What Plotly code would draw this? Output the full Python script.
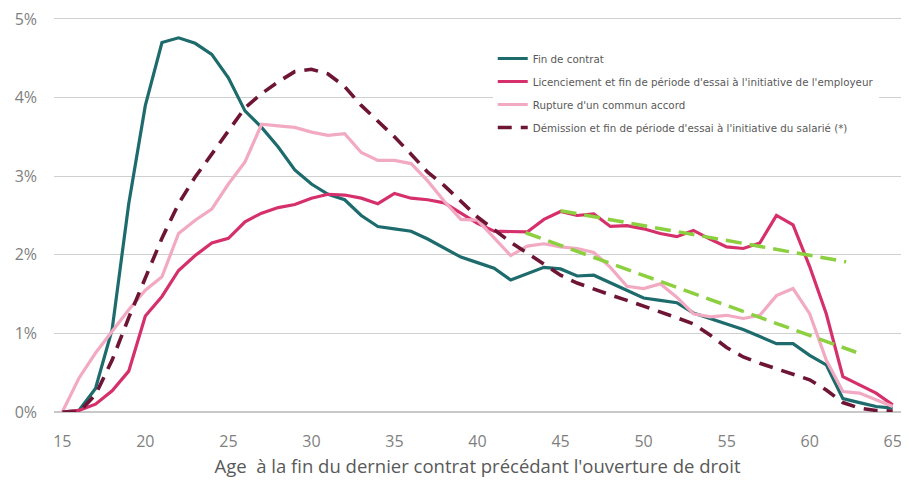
import plotly.graph_objects as go

# ages (catégories de l'axe x)
ages = list(range(15, 66))

fin_contrat = [0.00, 0.02, 0.30, 1.05, 2.65, 3.90, 4.70, 4.76, 4.69, 4.55,
               4.25, 3.83, 3.62, 3.37, 3.08, 2.90, 2.77, 2.70, 2.50, 2.36,
               2.33, 2.30, 2.20, 2.08, 1.97, 1.90, 1.83, 1.68, 1.76, 1.84,
               1.82, 1.73, 1.74, 1.64, 1.55, 1.45, 1.42, 1.39, 1.26, 1.19,
               1.12, 1.05, 0.96, 0.87, 0.87, 0.72, 0.60, 0.17, 0.12, 0.07,
               0.05]

licenciement = [0.00, 0.02, 0.10, 0.27, 0.52, 1.22, 1.47, 1.80, 1.99, 2.15,
                2.21, 2.42, 2.53, 2.60, 2.64, 2.72, 2.77, 2.76, 2.72, 2.65,
                2.78, 2.72, 2.70, 2.66, 2.53, 2.40, 2.30, 2.29, 2.29, 2.45,
                2.55, 2.50, 2.52, 2.36, 2.37, 2.33, 2.27, 2.23, 2.31, 2.20,
                2.10, 2.08, 2.15, 2.50, 2.38, 1.85, 1.25, 0.45, 0.35, 0.24,
                0.09]

rupture = [0.00, 0.43, 0.75, 1.03, 1.30, 1.55, 1.72, 2.27, 2.44, 2.58,
           2.90, 3.18, 3.66, 3.64, 3.62, 3.56, 3.52, 3.54, 3.30, 3.20,
           3.20, 3.16, 2.94, 2.68, 2.45, 2.44, 2.22, 1.99, 2.11, 2.14,
           2.10, 2.08, 2.03, 1.84, 1.60, 1.57, 1.63, 1.46, 1.25, 1.21,
           1.23, 1.19, 1.23, 1.48, 1.57, 1.25, 0.66, 0.26, 0.24, 0.15,
           0.07]

demission = [0.00, 0.00, 0.22, 0.66, 1.20, 1.72, 2.21, 2.65, 2.99, 3.28,
             3.58, 3.87, 4.05, 4.20, 4.33, 4.36, 4.30, 4.14, 3.90, 3.70,
             3.50, 3.28, 3.05, 2.88, 2.68, 2.48, 2.32, 2.16, 2.02, 1.88,
             1.74, 1.64, 1.56, 1.49, 1.42, 1.35, 1.27, 1.20, 1.12, 0.98,
             0.82, 0.70, 0.62, 0.55, 0.48, 0.41, 0.28, 0.12, 0.05, 0.02,
             0.01]

# tendances ajoutées en vert (début / fin)
tendance_haut_x = [45.0, 62.2]
tendance_haut_y = [2.56, 1.91]
tendance_bas_x = [42.9, 62.8]
tendance_bas_y = [2.28, 0.76]

y_ticks = [0, 1, 2, 3, 4, 5]
y_labels = ["0%", "1%", "2%", "3%", "4%", "5%"]
x_ticks = [15, 20, 25, 30, 35, 40, 45, 50, 55, 60, 65]

fig = go.Figure()

series = [
    ("Fin de contrat", fin_contrat, "#1d6b6c", "solid"),
    ("Licenciement et fin de période d'essai à l'initiative de l'employeur", licenciement, "#d5306b", "solid"),
    ("Rupture d'un commun accord", rupture, "#f2a9c2", "solid"),
    ("Démission et fin de période d'essai à l'initiative du salarié (*)", demission, "#6e1536", "14px,9px"),
]

for i, (nom, vals, couleur, dash) in enumerate(series):
    fig.add_trace(go.Scatter(
        x=ages, y=vals, mode="lines", name=nom,
        legendgroup=f"g{i}",
        line=dict(color=couleur, width=3.2 if dash == "solid" else 3.6, dash=dash),
    ))

for tx, ty in [(tendance_haut_x, tendance_haut_y), (tendance_bas_x, tendance_bas_y)]:
    fig.add_trace(go.Scatter(
        x=tx, y=ty, mode="lines", showlegend=False,
        line=dict(color="#8ccf3f", width=3.5, dash="16px,8px"),
    ))

# la page ajoute une marge de 8px autour du graphique
fig.update_layout(
    width=901, height=470,
    margin=dict(l=46, r=8, t=7, b=66),
    plot_bgcolor="white", paper_bgcolor="white",
    font=dict(family="Open Sans", color="#7f7f7f"),
    legend=dict(
        x=0.518, y=0.927, xanchor="left", yanchor="top",
        bgcolor="white", borderwidth=0,
        font=dict(family="DejaVu Sans", size=10.3, color="#595959"),
        tracegroupgap=4,
    ),
    xaxis=dict(
        range=[14.5, 65.5], tickvals=x_ticks, showgrid=False, zeroline=False,
        showline=False, ticks="", ticklabelstandoff=18, automargin=False,
        ticklabeloverflow="allow",
        tickfont=dict(size=16, color="#7f7f7f"),
        title=dict(text="Age  à la fin du dernier contrat précédant l'ouverture de droit",
                   font=dict(size=18.5, color="#595959"), standoff=15),
    ),
    yaxis=dict(
        range=[0, 5.05], tickvals=y_ticks, ticktext=y_labels, showgrid=True,
        gridcolor="#d0d0d0", gridwidth=1, zeroline=True, zerolinecolor="#c8c8c8",
        zerolinewidth=1.5, ticks="", ticklabelstandoff=16, automargin=False,
        ticklabeloverflow="allow",
        tickfont=dict(size=16, color="#7f7f7f"),
    ),
)

fig.write_html("out.html")
